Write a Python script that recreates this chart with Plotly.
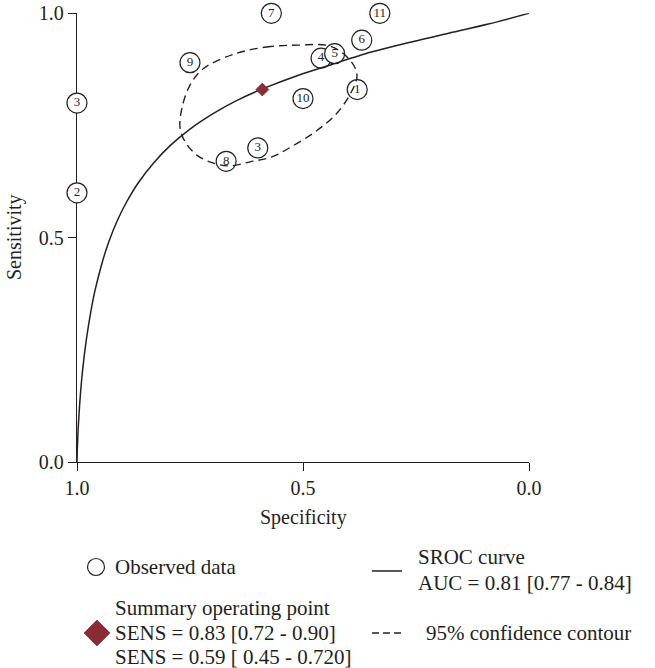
import plotly.graph_objects as go

# ---------------- data ----------------
study_labels = ["1", "2", "3", "3", "4", "5", "6", "7", "8", "9", "10", "11"]
study_spec = [0.38, 1.00, 1.00, 0.60, 0.46, 0.43, 0.37, 0.57, 0.67, 0.75, 0.50, 0.33]
study_sens = [0.83, 0.60, 0.80, 0.70, 0.90, 0.91, 0.94, 1.00, 0.67, 0.89, 0.81, 1.00]

summary_spec = [0.59]
summary_sens = [0.83]

sroc_spec = [1.0, 0.999, 0.997, 0.994, 0.990, 0.985, 0.979, 0.970, 0.960, 0.945, 0.930,
             0.910, 0.890, 0.864, 0.830, 0.794, 0.750, 0.698, 0.646, 0.591, 0.510,
             0.436, 0.351, 0.270, 0.180, 0.090, 0.0]
sroc_sens = [0.0, 0.038, 0.082, 0.130, 0.180, 0.228, 0.275, 0.332, 0.383, 0.442, 0.490,
             0.540, 0.580, 0.623, 0.667, 0.705, 0.742, 0.777, 0.806, 0.831, 0.862,
             0.886, 0.913, 0.934, 0.955, 0.976, 1.0]

contour_spec = [0.510, 0.572, 0.646, 0.720, 0.750, 0.768, 0.772, 0.761, 0.735, 0.698, 0.661,
                0.617, 0.569, 0.525, 0.473, 0.429, 0.399, 0.381, 0.384, 0.407, 0.444, 0.510]
contour_sens = [0.929, 0.926, 0.911, 0.877, 0.840, 0.788, 0.744, 0.714, 0.684, 0.666, 0.660,
                0.669, 0.680, 0.703, 0.736, 0.773, 0.814, 0.855, 0.877, 0.907, 0.928, 0.929]

tick_vals = [0.0, 0.5, 1.0]
tick_text = ["0.0", "0.5", "1.0"]

legend_observed = "Observed data"
legend_summary = ["Summary operating point", "SENS = 0.83 [0.72 - 0.90]", "SENS = 0.59 [ 0.45 - 0.720]"]
legend_sroc = ["SROC curve", "AUC = 0.81 [0.77 - 0.84]"]
legend_contour = "95% confidence contour"

# ---------------- styling ----------------
W, H = 655, 668
FONT = "Liberation Serif"
INK = "#231f20"
DARKRED = "#8b2c34"

fig = go.Figure()

# observed study points (circles with numbers)
fig.add_trace(go.Scatter(
    x=study_spec, y=study_sens, mode="markers+text", text=study_labels,
    textposition="middle center", cliponaxis=False,
    textfont=dict(family=FONT, size=13, color=INK),
    marker=dict(symbol="circle", size=20, color="white", line=dict(color=INK, width=1.2)),
    showlegend=False, hoverinfo="skip"))

# 95% confidence contour
fig.add_trace(go.Scatter(
    x=contour_spec, y=contour_sens, mode="lines", cliponaxis=False,
    line=dict(color=INK, width=1.4, dash="8px,5px", shape="spline", smoothing=1.0),
    showlegend=False, hoverinfo="skip"))

# SROC curve
fig.add_trace(go.Scatter(
    x=sroc_spec, y=sroc_sens, mode="lines", cliponaxis=False,
    line=dict(color=INK, width=1.5, shape="spline", smoothing=0.8),
    showlegend=False, hoverinfo="skip"))

# summary operating point
fig.add_trace(go.Scatter(
    x=summary_spec, y=summary_sens, mode="markers", cliponaxis=False,
    marker=dict(symbol="diamond", size=10, color=DARKRED, line=dict(color="#6e1f25", width=0.6)),
    showlegend=False, hoverinfo="skip"))

# ---------------- legend (drawn on a pixel overlay axis) ----------------
fig.add_trace(go.Scatter(
    x=[96], y=[567], xaxis="x2", yaxis="y2", mode="markers",
    marker=dict(symbol="circle", size=17, color="white", line=dict(color=INK, width=1.2)),
    showlegend=False, hoverinfo="skip"))
fig.add_trace(go.Scatter(
    x=[97], y=[633], xaxis="x2", yaxis="y2", mode="markers",
    marker=dict(symbol="diamond", size=20, color=DARKRED, line=dict(color="#6e1f25", width=0.6)),
    showlegend=False, hoverinfo="skip"))
fig.add_trace(go.Scatter(
    x=[372, 402], y=[571, 571], xaxis="x2", yaxis="y2", mode="lines",
    line=dict(color=INK, width=1.5), showlegend=False, hoverinfo="skip"))
fig.add_trace(go.Scatter(
    x=[372, 403], y=[633, 633], xaxis="x2", yaxis="y2", mode="lines",
    line=dict(color=INK, width=1.5, dash="7px,4px"), showlegend=False, hoverinfo="skip"))

annotations = []
def txt(x, y, s, anchor="left", angle=0, size=21):
    annotations.append(dict(x=x, y=y, xref="x2", yref="y2", text=s, showarrow=False,
                            xanchor=anchor, yanchor="middle", textangle=angle,
                            font=dict(family=FONT, size=size, color=INK)))

txt(113, 567, legend_observed)
for yy, s in zip([608, 633, 657], legend_summary):
    txt(113, yy, s)
for yy, s in zip([557, 583], legend_sroc):
    txt(416, yy, s)
txt(424, 633, legend_contour)
txt(303, 517, "Specificity", anchor="center", size=20)
txt(14, 237, "Sensitivity", anchor="center", angle=-90, size=20)

axis_common = dict(
    showline=True, linecolor=INK, linewidth=1.3, mirror=False,
    ticks="outside", ticklen=8, tickwidth=1.3, tickcolor=INK,
    showgrid=False, zeroline=False, tickvals=tick_vals, ticktext=tick_text,
    tickfont=dict(family=FONT, size=20, color=INK), layer="below traces",
    automargin=False,
)

fig.update_layout(
    width=W, height=H, autosize=False,
    margin=dict(l=0, r=0, t=0, b=0, pad=0),
    paper_bgcolor="white", plot_bgcolor="rgba(0,0,0,0)",
    showlegend=False,
    xaxis=dict(domain=[77 / W, 529 / W], range=[1, 0], anchor="y", **axis_common),
    yaxis=dict(domain=[1 - 462 / H, 1 - 13.3 / H], range=[0, 1], anchor="x", **axis_common),
    xaxis2=dict(domain=[0, 1], range=[0, W], visible=False, anchor="y2", fixedrange=True),
    yaxis2=dict(domain=[0, 1], range=[H, 0], visible=False, anchor="x2", fixedrange=True),
    annotations=annotations,
)

fig.write_html(
    "out.html",
    config={"responsive": False, "displayModeBar": False},
    post_script="document.body.style.margin='0';",
)
